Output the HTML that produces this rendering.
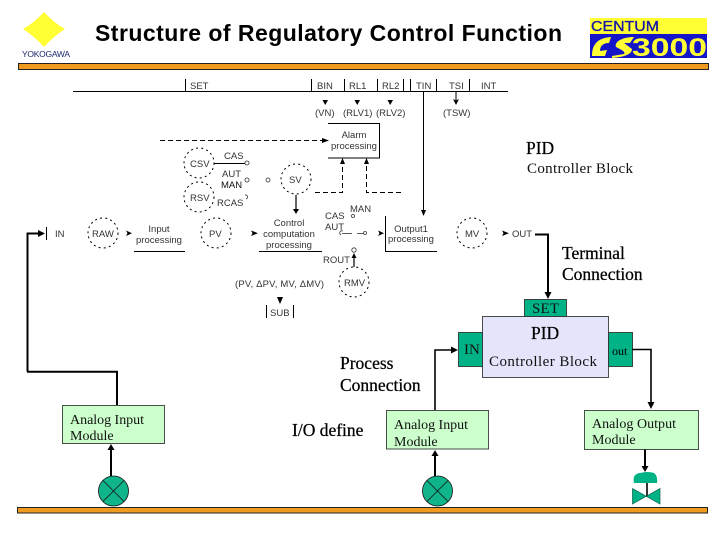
<!DOCTYPE html>
<html>
<head>
<meta charset="utf-8">
<style>
html,body{margin:0;padding:0;background:#fff;width:720px;height:540px;overflow:hidden}
svg{display:block}
.s{font-family:"Liberation Sans",sans-serif;font-size:9.5px;fill:#333}
.c{text-anchor:middle}
.r{font-family:"Liberation Serif",serif;fill:#000}
.h{font-size:17.5px;stroke:#000;stroke-width:.25px}
.m{font-size:14px;fill:#111}
.l{font-size:15px;fill:#111}
.k{stroke:#000;fill:none}
.d{stroke:#000;fill:none;stroke-dasharray:5 3}
.o{stroke:#000;fill:none;stroke-dasharray:2 3.2;stroke-width:1}
.q{stroke:#333;fill:#fff;stroke-width:.8}
</style>
</head>
<body>
<svg width="720" height="540" viewBox="0 0 720 540" xmlns="http://www.w3.org/2000/svg">
<defs>
<marker id="a" markerWidth="7" markerHeight="7" refX="5" refY="3" orient="auto" markerUnits="userSpaceOnUse"><path d="M0 0L6 3L0 6L1.5 3Z" fill="#000"/></marker>
</defs>

<!-- header -->
<path d="M44 12Q54 23 65 29Q54 36 44 47Q34 36 23 29Q34 23 44 12Z" fill="#ffff33"/>
<text x="22" y="57" font-family="Liberation Sans" font-size="8.5" fill="#1b2a6b" textLength="48">YOKOGAWA</text>
<text x="95" y="41" font-family="Liberation Sans" font-weight="bold" font-size="23" fill="#000" textLength="467">Structure of Regulatory Control Function</text>
<rect x="18.5" y="63.5" width="690" height="6" fill="#f09a1f" stroke="#222" stroke-width="1"/>

<rect x="590" y="18" width="117" height="40" fill="#ffff33"/>
<rect x="590" y="34" width="117" height="24" fill="#1414c8"/>
<text x="591" y="31" font-family="Liberation Sans" font-size="14.5" fill="#1414a8" stroke="#1414a8" stroke-width=".3" textLength="68" lengthAdjust="spacingAndGlyphs">CENTUM</text>
<path d="M592 56C592 42 600 38 611 37L609 43C603 43 600 46 600 51L607 50L605 56ZM612 56L624 54C626 52 622 50 616 47C614 42 622 37 634 37L630 43L624 43L632 49C632 54 625 57 612 58Z" fill="#ffff33"/>
<text x="632" y="56" font-family="Liberation Sans" font-weight="bold" font-size="25" fill="#ffff33" textLength="75" lengthAdjust="spacingAndGlyphs">3000</text>

<!-- top bus -->
<path class="k" d="M73 91.5H508M185.5 79V91M311.5 79V91M344.5 79V91M377.5 79V91M403.5 79V91M410.5 79V91M436.5 79V91M469.5 79V91" stroke-width="1"/>
<text class="s" x="190" y="89">SET</text>
<text class="s" x="317" y="89">BIN</text>
<text class="s" x="349" y="89">RL1</text>
<text class="s" x="382" y="89">RL2</text>
<text class="s" x="416" y="89">TIN</text>
<text class="s" x="449" y="89">TSI</text>
<text class="s" x="481" y="89">INT</text>

<path d="M322.5 100H328L325.2 105ZM354.5 100H360L357.2 105ZM387.5 100H393L390.2 105Z" fill="#000"/>
<path d="M456 91V104" stroke="#000" stroke-width="1" marker-end="url(#a)"/>
<text class="s" x="315" y="116">(VN)</text>
<text class="s" x="343" y="116">(RLV1)</text>
<text class="s" x="376" y="116">(RLV2)</text>
<text class="s" x="443" y="116">(TSW)</text>

<!-- alarm -->
<path class="k" d="M328 123.5H379.5V158H328"/>
<text class="s c" x="354" y="138">Alarm</text>
<text class="s c" x="354" y="149">processing</text>
<path class="d" d="M160 140.5H322"/>
<path d="M322 138L329 140.5L322 143Z" fill="#000"/>
<path class="d" d="M315 192.5H342.5V162"/>
<path class="d" d="M401 192.5H366.5V162"/>
<path d="M340 164L342.5 158L345 164ZM364 164L366.5 158L369 164Z" fill="#000"/>

<!-- tin line -->
<path d="M423.5 91V215" stroke="#000" stroke-width="1"/>
<path d="M421 210H426L423.5 216Z" fill="#000"/>

<!-- CSV RSV SV -->
<circle class="o" cx="199" cy="163" r="15"/>
<text class="s" x="190" y="167">CSV</text>
<circle class="o" cx="199" cy="197" r="15"/>
<text class="s" x="190" y="201">RSV</text>
<path class="k" d="M214 163.5H245"/>
<circle class="q" cx="247" cy="163" r="2"/>
<text class="s" x="224" y="159">CAS</text>
<text class="s" x="222" y="177">AUT</text>
<text class="s" x="221" y="188" style="fill:#111">MAN</text>
<circle class="q" cx="247" cy="180" r="2"/>
<text class="s" x="217" y="206">RCAS</text>
<path class="q" style="fill:none" d="M245 195A2 2 0 1 1 246 199"/>
<circle class="q" cx="268" cy="180" r="2"/>
<circle class="o" cx="296" cy="179" r="15"/>
<text class="s" x="289" y="183">SV</text>
<path d="M296 195V212" stroke="#000" stroke-width="1.2"/>
<path d="M293 209H299L296 214Z" fill="#000"/>

<!-- main row -->
<path d="M27.5 371.5V233.5H40" stroke="#000" stroke-width="2" fill="none"/>
<path d="M38 230L45 233.5L38 237Z" fill="#000"/>
<path d="M46.5 227V240" stroke="#000" stroke-width="1"/>
<text class="s" x="55" y="237">IN</text>
<circle class="o" cx="103" cy="233" r="15"/>
<text class="s" x="92" y="237">RAW</text>
<path d="M126 230.5L132 233.2L126 236L127.5 233.2Z" fill="#000"/>
<text class="s c" x="159" y="232">Input</text>
<text class="s c" x="159" y="243">processing</text>
<path d="M134 251.5H185" stroke="#000" stroke-width="1"/>
<circle class="o" cx="216" cy="233" r="15"/>
<text class="s" x="209" y="237">PV</text>
<path d="M251 230.5L258 233.2L251 236L252.5 233.2Z" fill="#000"/>
<text class="s c" x="289" y="226">Control</text>
<text class="s c" x="289" y="237">computation</text>
<text class="s c" x="289" y="248">processing</text>
<path d="M259 251.5H322" stroke="#000" stroke-width="1"/>

<text class="s" x="325" y="219">CAS</text>
<text class="s" x="350" y="212">MAN</text>
<text class="s" x="325" y="230">AUT</text>
<circle class="q" cx="353" cy="216" r="1.5"/>
<path d="M342 233.5H352M357 233.5H363" stroke="#222" stroke-width=".8"/>
<path class="q" style="fill:none" d="M343 231A2 2 0 1 0 341 235"/>
<circle class="q" cx="365" cy="233" r="1.5"/>
<path d="M378 230.5L384 233.2L378 236L379.5 233.2Z" fill="#000"/>
<text class="s" x="323" y="263">ROUT</text>
<circle class="q" cx="354" cy="250" r="2.2"/>
<path d="M354 267V256" stroke="#000" stroke-width="1.2"/>
<path d="M351.5 258L354 253L356.5 258Z" fill="#000"/>
<circle class="o" cx="354" cy="282" r="15"/>
<text class="s" x="344" y="286">RMV</text>

<path class="k" d="M385.5 216V251.5H437"/>
<text class="s c" x="411" y="232">Output1</text>
<text class="s c" x="411" y="242">processing</text>
<circle class="o" cx="472" cy="233" r="15"/>
<text class="s" x="465" y="237">MV</text>
<path d="M502 230.5L509 233.2L502 236L503.5 233.2Z" fill="#000"/>
<text class="s" x="512" y="237">OUT</text>

<text class="s" x="235" y="287" textLength="89">(PV, ΔPV, MV, ΔMV)</text>
<path d="M277 297H283L280 304Z" fill="#000"/>
<path d="M266.5 305V318M293.5 305V318" stroke="#000" stroke-width="1"/>
<text class="s" x="270" y="316">SUB</text>

<!-- labels right -->
<text class="r h" x="526" y="154" style="stroke-width:.2">PID</text>
<text class="r l" x="527" y="173" textLength="106">Controller Block</text>
<text class="r h" x="562" y="259">Terminal</text>
<text class="r h" x="562" y="280">Connection</text>

<!-- terminal line -->
<path d="M535 234.5H548V294" stroke="#000" stroke-width="2" fill="none"/>
<path d="M544.5 292H551.5L548 299Z" fill="#000"/>

<!-- PID block -->
<rect x="458.5" y="332.5" width="24" height="34" fill="#00b386" stroke="#222" stroke-width=".8"/>
<rect x="608.5" y="332.5" width="24" height="34" fill="#00b386" stroke="#222" stroke-width=".8"/>
<rect x="524.5" y="299.5" width="42" height="17" fill="#00b386" stroke="#222" stroke-width=".8"/>
<rect x="482.5" y="316.5" width="126" height="61" fill="#e4e4fb" stroke="#222" stroke-width=".8"/>
<text class="r l" x="532" y="313" textLength="27">SET</text>
<text class="r l" x="464" y="354">IN</text>
<text class="r" x="612" y="355" font-size="12">out</text>
<text class="r h" x="531" y="339" style="stroke-width:.2">PID</text>
<text class="r l" x="489" y="366" textLength="108">Controller Block</text>

<!-- connections -->
<path d="M632 349.5H651V403" stroke="#000" fill="none" stroke-width="1.6"/>
<path d="M647.5 402H654.5L651 409Z" fill="#000"/>
<path d="M435 410V350H452" stroke="#000" fill="none" stroke-width="1.6"/>
<path d="M451 346.5L458 350L451 353.5Z" fill="#000"/>
<path d="M27 371.7H117V405" stroke="#000" fill="none" stroke-width="2"/>

<text class="r h" x="340" y="369">Process</text>
<text class="r h" x="340" y="391">Connection</text>
<text class="r h" x="292" y="436">I/O define</text>

<!-- modules -->
<rect x="62.5" y="405.5" width="102" height="38" fill="#ccffcc" stroke="#222" stroke-width=".8"/>
<text class="r m" x="70" y="424" textLength="74">Analog Input</text>
<text class="r m" x="70" y="440">Module</text>
<rect x="386.5" y="410.5" width="102" height="38.5" fill="#ccffcc" stroke="#222" stroke-width=".8"/>
<text class="r m" x="394" y="429" textLength="74">Analog Input</text>
<text class="r m" x="394" y="446">Module</text>
<rect x="584.5" y="410.5" width="114" height="39" fill="#ccffcc" stroke="#222" stroke-width=".8"/>
<text class="r m" x="592" y="428" textLength="84">Analog Output</text>
<text class="r m" x="592" y="444">Module</text>

<!-- sensors -->
<path d="M111 477V449" stroke="#000" stroke-width="2"/>
<path d="M107.5 450L111 444L114.5 450Z" fill="#000"/>
<circle cx="113.5" cy="491" r="15" fill="#10b48a" stroke="#111" stroke-width=".8"/>
<path d="M103 480.5L124 501.5M124 480.5L103 501.5" stroke="#111" stroke-width=".8"/>
<path d="M435 477V456" stroke="#000" stroke-width="2"/>
<path d="M431.5 456L435 450L438.5 456Z" fill="#000"/>
<circle cx="437.5" cy="491" r="15" fill="#10b48a" stroke="#111" stroke-width=".8"/>
<path d="M427 480.5L448 501.5M448 480.5L427 501.5" stroke="#111" stroke-width=".8"/>

<!-- valve -->
<path d="M645 449.5V467" stroke="#000" stroke-width="2"/>
<path d="M641.5 466H648.5L645 472Z" fill="#000"/>
<path d="M634 483Q632 474 640 473Q648 471 654 473Q658 476 657 483Z" fill="#00b386"/>
<path d="M647 483V497" stroke="#000" stroke-width="1.6"/>
<path d="M632.5 488.5L660 504V488.5L632.5 504Z" fill="#00b386" stroke="#0a5f4a" stroke-width=".7"/>

<rect x="17.5" y="507.5" width="690" height="5.5" fill="#f09a1f" stroke="#222" stroke-width="1"/>
</svg>
</body>
</html>
